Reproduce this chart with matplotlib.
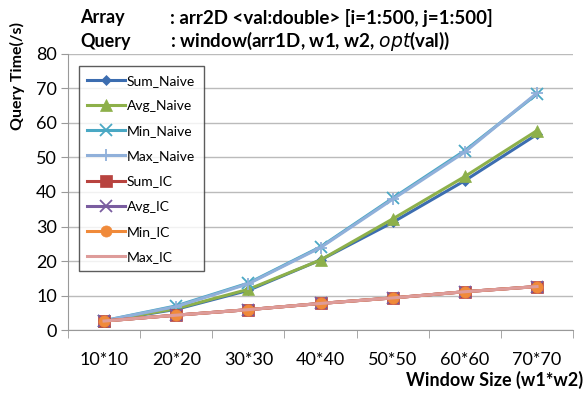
import numpy as np
import matplotlib.pyplot as plt

plt.rcParams['font.family'] = ['Lato', 'DejaVu Sans']

# window sizes on the x axis
categories = ["10*10", "20*20", "30*30", "40*40", "50*50", "60*60", "70*70"]

# query time in seconds
sum_naive = [2.6, 6.0, 11.5, 20.3, 31.2, 43.3, 56.7]
avg_naive = [2.6, 6.2, 11.8, 20.3, 32.2, 44.5, 57.8]
min_naive = [2.7, 7.0, 13.6, 24.1, 38.2, 52.0, 68.4]
max_naive = [2.7, 6.8, 13.4, 23.9, 37.9, 51.6, 68.7]
sum_ic = [2.6, 4.3, 5.9, 7.7, 9.3, 11.1, 12.6]
avg_ic = [2.6, 4.3, 5.9, 7.7, 9.3, 11.1, 12.6]
min_ic = [2.6, 4.3, 5.9, 7.7, 9.3, 11.1, 12.6]
max_ic = [2.6, 4.3, 5.9, 7.7, 9.3, 11.1, 12.6]

series = [
    ("Sum_Naive", sum_naive, "#3C6DB0", "D", 5),
    ("Avg_Naive", avg_naive, "#8DB04A", "^", 8),
    ("Min_Naive", min_naive, "#4AA8C4", "x", 9),
    ("Max_Naive", max_naive, "#90B0DA", "+", 9),
    ("Sum_IC", sum_ic, "#B8433F", "s", 8),
    ("Avg_IC", avg_ic, "#7A5DA0", "x", 8),
    ("Min_IC", min_ic, "#F08A3A", "o", 8),
    ("Max_IC", max_ic, "#DE9C9A", None, 0),
]

fig = plt.figure(figsize=(5.86, 3.94), dpi=100)
ax = fig.add_axes([0.116, 0.1624, 0.862, 0.7006])

x = np.arange(len(categories))
for name, vals, col, mk, ms in series:
    ax.plot(x, vals, color=col, linewidth=2.2, marker=mk, markersize=ms,
            markeredgewidth=1.3 if mk in ("x", "+") else 0.5,
            markeredgecolor=col, label=name)

ax.set_xlim(-0.5, len(categories) - 0.5)
ax.set_ylim(0, 80)
ax.set_yticks(np.arange(0, 81, 10))
ax.set_xticks(x)
ax.set_xticklabels(categories)
ax.set_xticks(np.arange(-0.5, len(categories), 1), minor=True)
ax.tick_params(axis='x', which='major', length=0, pad=16, labelsize=13)
ax.tick_params(axis='x', which='minor', length=6, color="#999999")
ax.tick_params(axis='y', length=5, color="#999999", labelsize=13, pad=3)

ax.grid(axis='y', color="#BBBBBB", linewidth=1)
ax.set_axisbelow(True)
for s in ("top", "right"):
    ax.spines[s].set_visible(False)
ax.spines["left"].set_color("#999999")
ax.spines["bottom"].set_color("#999999")

leg = ax.legend(loc="upper left", bbox_to_anchor=(0.022, 0.955), fontsize=10,
                frameon=True, fancybox=False, edgecolor="#333333",
                handlelength=2.7, labelspacing=0.95, borderpad=0.6,
                handletextpad=0.15, borderaxespad=0)
leg.get_frame().set_linewidth(1)

fig.text(0.03, 0.945, "Query Time(/s)", rotation=90, fontsize=11.5,
         fontweight="bold", ha="center", va="top")
fig.text(0.995, 0.012, "Window Size (w1*w2)", fontsize=13,
         fontweight="bold", ha="right", va="bottom")

fig.text(0.137, 0.955, "Array", fontsize=13, fontweight="bold", va="center")
fig.text(0.29, 0.955, ": arr2D <val:double> [i=1:500, j=1:500]",
         fontsize=13.5, fontweight="bold", va="center")
fig.text(0.137, 0.895, "Query", fontsize=13, fontweight="bold", va="center")
fig.text(0.29, 0.895, r": window(arr1D, w1, w2, $\bf{\it{opt}}$(val))",
         fontsize=13.5, fontweight="bold", va="center")

fig.savefig("out.png", dpi=100)
